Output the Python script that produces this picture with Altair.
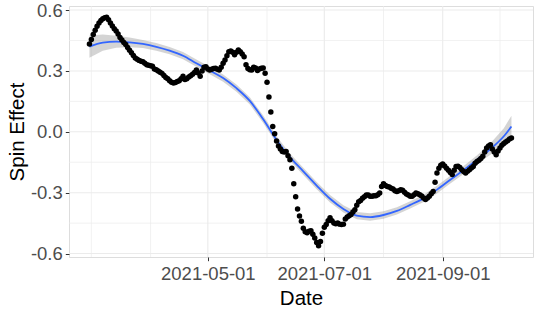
import altair as alt
import pandas as pd

# ---- data ----
start_date = "2021-02-28"
spin_values = [
    0.433, 0.455, 0.480, 0.500, 0.520, 0.536, 0.548, 0.557, 0.562, 0.564,
    0.552, 0.536, 0.522, 0.508, 0.497, 0.482, 0.465, 0.452, 0.440, 0.430,
    0.415, 0.402, 0.390, 0.376, 0.364, 0.358, 0.352, 0.348, 0.345, 0.338,
    0.331, 0.328, 0.325, 0.323, 0.310, 0.306, 0.300, 0.293, 0.288, 0.278,
    0.268, 0.262, 0.252, 0.244, 0.241, 0.243, 0.248, 0.252, 0.262, 0.274,
    0.258, 0.262, 0.270, 0.276, 0.284, 0.292, 0.305, 0.290, 0.274, 0.300,
    0.318, 0.321, 0.310, 0.305, 0.308, 0.312, 0.313, 0.308, 0.305, 0.318,
    0.338, 0.354, 0.375, 0.395, 0.398, 0.392, 0.380, 0.392, 0.403, 0.395,
    0.384, 0.370, 0.330, 0.312, 0.306, 0.305, 0.318, 0.315, 0.302, 0.310,
    0.313, 0.314, 0.289, 0.244, 0.171, 0.098, 0.026, -0.010, -0.045, -0.070,
    -0.085, -0.097, -0.100, -0.097, -0.118, -0.138, -0.180, -0.256, -0.320, -0.380,
    -0.415, -0.441, -0.475, -0.492, -0.498, -0.490, -0.488, -0.505, -0.523, -0.545,
    -0.561, -0.540, -0.500, -0.470, -0.457, -0.438, -0.424, -0.438, -0.450, -0.453,
    -0.449, -0.455, -0.457, -0.455, -0.430, -0.420, -0.414, -0.408, -0.395, -0.384,
    -0.362, -0.345, -0.338, -0.327, -0.320, -0.312, -0.312, -0.318, -0.318, -0.315,
    -0.315, -0.310, -0.302, -0.270, -0.256, -0.265, -0.270, -0.272, -0.278, -0.282,
    -0.290, -0.294, -0.290, -0.285, -0.288, -0.298, -0.306, -0.312, -0.318, -0.318,
    -0.310, -0.302, -0.305, -0.310, -0.316, -0.326, -0.334, -0.326, -0.318, -0.305,
    -0.294, -0.249, -0.203, -0.180, -0.165, -0.158, -0.168, -0.179, -0.190, -0.200,
    -0.211, -0.190, -0.171, -0.170, -0.176, -0.187, -0.196, -0.203, -0.195, -0.187,
    -0.178, -0.171, -0.155, -0.146, -0.140, -0.132, -0.121, -0.100, -0.080, -0.070,
    -0.064, -0.085, -0.100, -0.113, -0.095, -0.080, -0.066, -0.058, -0.050, -0.044,
    -0.036, -0.031,
]

fit_dates = [
    "2021-02-28", "2021-03-07", "2021-03-14", "2021-03-21", "2021-03-28",
    "2021-04-04", "2021-04-11", "2021-04-18", "2021-04-25", "2021-05-02",
    "2021-05-09", "2021-05-16", "2021-05-23", "2021-05-30", "2021-06-06",
    "2021-06-13", "2021-06-20", "2021-06-27", "2021-07-04", "2021-07-11",
    "2021-07-18", "2021-07-25", "2021-08-01", "2021-08-08", "2021-08-15",
    "2021-08-22", "2021-08-29", "2021-09-05", "2021-09-12", "2021-09-19",
    "2021-09-26", "2021-10-03", "2021-10-07",
]
fit_values = [
    0.420, 0.440, 0.444, 0.441, 0.433, 0.419, 0.400, 0.375, 0.338, 0.302,
    0.265, 0.215, 0.152, 0.062, -0.040, -0.125, -0.195, -0.265, -0.330, -0.380,
    -0.413, -0.420, -0.410, -0.390, -0.360, -0.328, -0.285, -0.236, -0.188, -0.137,
    -0.085, -0.022, 0.026,
]
fit_se = [
    0.055, 0.040, 0.030, 0.024, 0.020, 0.019, 0.018, 0.018, 0.018, 0.018,
    0.018, 0.018, 0.018, 0.018, 0.018, 0.018, 0.018, 0.018, 0.018, 0.018,
    0.018, 0.018, 0.018, 0.018, 0.018, 0.018, 0.019, 0.019, 0.020, 0.022,
    0.028, 0.040, 0.053,
]

x_major = ["2021-05-01", "2021-07-01", "2021-09-01"]
x_minor = ["2021-03-01", "2021-04-01", "2021-06-01", "2021-08-01", "2021-10-01"]
y_major = [-0.6, -0.3, 0.0, 0.3, 0.6]
y_minor = [-0.45, -0.15, 0.15, 0.45]
x_title = "Date"
y_title = "Spin Effect"

# ---- tables ----
dates = pd.date_range(start_date, periods=len(spin_values), freq="D").strftime("%Y-%m-%d").tolist()
pts = pd.DataFrame({"date": dates, "spin": spin_values})
fit = pd.DataFrame({"date": fit_dates, "fit": fit_values, "se": fit_se})
fit["lo"] = fit["fit"] - fit["se"]
fit["hi"] = fit["fit"] + fit["se"]

xmaj = pd.DataFrame({"date": x_major})
xmin = pd.DataFrame({"date": x_minor})
ymaj = pd.DataFrame({"v": y_major})
ymin = pd.DataFrame({"v": y_minor})

xscale = alt.Scale(type="utc",
                   domain=[alt.DateTime(year=2021, month=2, date=17, hours=7, utc=True),
                           alt.DateTime(year=2021, month=10, date=18, hours=7, utc=True)])
yscale = alt.Scale(domain=[-0.617, 0.62], nice=False, zero=False)

xaxis = alt.Axis(
    values=[alt.DateTime(year=2021, month=5, date=1, utc=True),
            alt.DateTime(year=2021, month=7, date=1, utc=True),
            alt.DateTime(year=2021, month=9, date=1, utc=True)],
    labelExpr="utcFormat(datum.value, '%Y-%m-%d')",
    title=x_title,
    grid=False, domain=False,
    tickColor="#333333", tickSize=3.7, tickWidth=1,
    labelFontSize=18.5, labelColor="#4D4D4D", labelPadding=4,
    titleFontSize=20.5, titleColor="#000000", titleFontWeight="normal", titlePadding=5,
    labelFont="Liberation Sans", titleFont="Liberation Sans",
)
yaxis = alt.Axis(
    values=y_major,
    labelExpr="replace(format(datum.value, '.1f'), '\u2212', '-')",
    title=y_title,
    grid=False, domain=False,
    tickColor="#333333", tickSize=3.7, tickWidth=1,
    labelFontSize=18.5, labelColor="#4D4D4D", labelPadding=3,
    titleFontSize=20.5, titleColor="#000000", titleFontWeight="normal", titlePadding=3,
    labelFont="Liberation Sans", titleFont="Liberation Sans",
)

grid_xmaj = alt.Chart(xmaj).mark_rule(color="#EBEBEB", strokeWidth=1.1).encode(
    x=alt.X("date:T", scale=xscale, axis=xaxis))
grid_xmin = alt.Chart(xmin).mark_rule(color="#EBEBEB", strokeWidth=0.7).encode(
    x=alt.X("date:T"))
grid_ymaj = alt.Chart(ymaj).mark_rule(color="#EBEBEB", strokeWidth=1.1).encode(
    y=alt.Y("v:Q", scale=yscale, axis=yaxis))
grid_ymin = alt.Chart(ymin).mark_rule(color="#EBEBEB", strokeWidth=0.7).encode(
    y=alt.Y("v:Q"))

ribbon = alt.Chart(fit).mark_area(color="#999999", opacity=0.42).encode(
    x=alt.X("date:T"), y=alt.Y("lo:Q"), y2="hi:Q")
line = alt.Chart(fit).mark_line(color="#3366FF", strokeWidth=1.8, interpolate="monotone").encode(
    x=alt.X("date:T"), y=alt.Y("fit:Q"))
points = alt.Chart(pts).mark_circle(color="#000000", opacity=1, size=30).encode(
    x=alt.X("date:T"), y=alt.Y("spin:Q"))

chart = alt.layer(grid_xmin, grid_xmaj, grid_ymin, grid_ymaj, ribbon, line, points).properties(
    width=464, height=251,
    autosize=alt.AutoSizeParams(type="none"),
    padding={"left": 69, "top": 6, "right": 7, "bottom": 57},
).configure_view(
    stroke="#333333", strokeWidth=1.1
).configure(
    background="white", font="Liberation Sans"
)

chart.save("out.html", embed_options={"renderer": "svg", "actions": False})
